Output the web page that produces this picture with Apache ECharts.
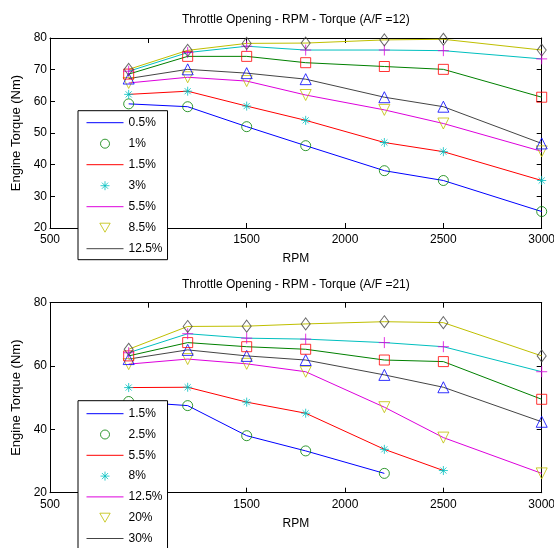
<!DOCTYPE html>
<html>
<head>
<meta charset="utf-8">
<script src="https://cdn.jsdelivr.net/npm/echarts@6/dist/echarts.min.js"></script>
<style>
  html, body { margin: 0; padding: 0; background: #fff; }
  #chart { width: 554px; height: 548px; }
</style>
</head>
<body>
<div id="chart"></div>
<script>
const rpm = [900, 1200, 1500, 1800, 2200, 2500, 3000]

// A/F = 12, curves from the bottom one up
const af12c1 = [59.2, 58.3, 52.0, 46.0, 38.1, 35.0, 25.2]
const af12c2 = [62.2, 63.2, 58.5, 54.0, 47.0, 44.1, 35.0]
const af12c3 = [65.8, 67.6, 66.4, 62.0, 57.3, 53.0, 44.2]
const af12c4 = [67.2, 70.1, 68.9, 67.0, 61.3, 58.3, 46.7]
const af12c5 = [68.6, 74.2, 74.2, 72.2, 71.0, 70.1, 61.3]
const af12c6 = [69.5, 75.4, 77.4, 76.2, 76.2, 76.0, 73.4]
const af12c7 = [70.1, 76.1, 78.3, 78.4, 79.4, 79.6, 76.2]
const af12Labels = ['0.5%', '1%', '1.5%', '3%', '5.5%', '8.5%', '12.5%']

// A/F = 21
const af21c1 = [48.8, 47.5, 38.0, 33.2, 26.1, null, null]
const af21c2 = [53.2, 53.3, 48.6, 45.1, 33.7, 27.0, null]
const af21c3 = [60.6, 62.2, 60.7, 58.2, 47.0, 37.4, 26.1]
const af21c4 = [62.2, 65.1, 63.2, 61.9, 57.2, 53.3, 42.4]
const af21c5 = [63.2, 67.4, 66.1, 65.3, 61.9, 61.4, 49.5]
const af21c6 = [64.2, 70.2, 68.8, 68.5, 67.4, 66.1, 58.2]
const af21c7 = [65.3, 72.5, 72.6, 73.3, 74.0, 73.7, 63.2]
const af21Labels = ['1.5%', '2.5%', '5.5%', '8%', '12.5%', '20%', '30%']

// each curve = a line + a separate marker set (matlab style)
const lineColors = ['#0000ff', '#ff0000', '#dd00dd', '#444444', '#008000', '#00bfbf', '#bfbf00']
const markColors = ['#008000', '#00bfbf', '#bfbf00', '#0000ff', '#ff0000', '#dd00dd', '#444444']
const markSymbols = [
  'circle',
  'path://M5,0V10M0,5H10M1.6,1.6L8.4,8.4M1.6,8.4L8.4,1.6',
  'path://M0,0H10L5,8.7Z',
  'path://M5,0L10,8.7H0Z',
  'path://M0,0H10V10H0Z',
  'path://M5,0V10M0,5H10',
  'path://M4,0L8,5.5L4,11L0,5.5Z'
]
const markSizes = [10, 9, 11, 11, 10, 11, [9, 12]]

function buildSeries (g, curves, labels, tag) {
  let series = []
  let legendData = []
  curves.forEach((ys, i) => {
    let pts = rpm.map((x, j) => [x, ys[j]]).filter(p => p[1] != null)
    let lineName = i < 4 ? tag + labels[2 * i] : tag + 'line' + i
    let markName = i < 3 ? tag + labels[2 * i + 1] : tag + 'mark' + i
    series.push({
      type: 'line', name: lineName, xAxisIndex: 2 * g, yAxisIndex: 2 * g,
      data: pts, symbol: 'none', silent: true, z: 2,
      lineStyle: {color: lineColors[i], width: 1},
      itemStyle: {color: lineColors[i]}
    })
    series.push({
      type: 'scatter', name: markName, xAxisIndex: 2 * g, yAxisIndex: 2 * g,
      data: pts, symbol: markSymbols[i], symbolSize: markSizes[i], silent: true, z: 3,
      itemStyle: {color: 'transparent', borderColor: markColors[i], borderWidth: 1}
    })
    if (i < 4) {
      legendData[2 * i] = {name: lineName, icon: 'line',
        itemStyle: {color: lineColors[i], borderColor: lineColors[i], borderWidth: 1}}
    }
    if (i < 3) {
      legendData[2 * i + 1] = {name: markName, icon: markSymbols[i],
        itemStyle: {color: 'transparent', borderColor: markColors[i], borderWidth: 1}}
    }
  })
  return {series, legendData}
}

const top12 = buildSeries(0, [af12c1, af12c2, af12c3, af12c4, af12c5, af12c6, af12c7], af12Labels, 'A|')
const bot21 = buildSeries(1, [af21c1, af21c2, af21c3, af21c4, af21c5, af21c6, af21c7], af21Labels, 'B|')

const black = '#000'

function xAxes (g, title) {
  let common = {
    type: 'value', gridIndex: g, min: 500, max: 3000, interval: 500,
    axisLine: {show: true, onZero: false, lineStyle: {color: black, width: 1}},
    axisTick: {show: true, inside: true, length: 5, lineStyle: {color: black}},
    splitLine: {show: false}
  }
  return [
    Object.assign({}, common, {
      position: 'bottom',
      axisLabel: {color: black, fontSize: 12, margin: 6, showMinLabel: true, showMaxLabel: true,
        formatter: v => String(v)},
      name: 'RPM', nameLocation: 'middle', nameGap: 25,
      nameTextStyle: {color: black, fontSize: 12}
    }),
    Object.assign({}, common, {
      position: 'top',
      axisLabel: {show: false},
      name: title, nameLocation: 'middle', nameGap: 12,
      nameTextStyle: {color: black, fontSize: 12}
    })
  ]
}

function yAxes (g, step) {
  let common = {
    type: 'value', gridIndex: g, min: 20, max: 80, interval: step,
    axisLine: {show: true, onZero: false, lineStyle: {color: black, width: 1}},
    axisTick: {show: true, inside: true, length: 5, lineStyle: {color: black}},
    splitLine: {show: false}
  }
  return [
    Object.assign({}, common, {
      position: 'left',
      axisLabel: {color: black, fontSize: 12, margin: 3, showMinLabel: true, showMaxLabel: true},
      name: 'Engine Torque (Nm)', nameLocation: 'middle', nameGap: 25,
      nameTextStyle: {color: black, fontSize: 13}
    }),
    Object.assign({}, common, {
      position: 'right',
      axisLabel: {show: false}
    })
  ]
}

function legendAt (top, data, padTop, gap) {
  return {
    data: data, orient: 'vertical', left: 78, top: top, height: 200,
    itemWidth: 37, itemHeight: 9, itemGap: gap,
    padding: [padTop, 5, 5, 8],
    backgroundColor: '#fff', borderColor: black, borderWidth: 1, borderRadius: 0,
    textStyle: {color: black, fontSize: 12},
    formatter: n => n.slice(2),
    selectedMode: false, z: 10
  }
}

const chart = echarts.init(document.getElementById('chart'))
chart.setOption({
  animation: false,
  backgroundColor: '#fff',
  textStyle: {fontFamily: 'Liberation Sans, Arial, sans-serif'},
  grid: [
    {left: 50, top: 38, right: 12.3, height: 190, containLabel: false, outerBoundsMode: 'none'},
    {left: 50, top: 302.7, right: 12.3, height: 190, containLabel: false, outerBoundsMode: 'none'}
  ],
  xAxis: xAxes(0, 'Throttle Opening - RPM - Torque (A/F =12)').concat(xAxes(1, 'Throttle Opening - RPM - Torque (A/F =21)')),
  yAxis: yAxes(0, 10).concat(yAxes(1, 20)),
  legend: [
    legendAt(110.7, top12.legendData, 6, 9),
    legendAt(400.7, bot21.legendData, 7, 8.8)
  ],
  series: top12.series.concat(bot21.series)
})
</script>
</body>
</html>
